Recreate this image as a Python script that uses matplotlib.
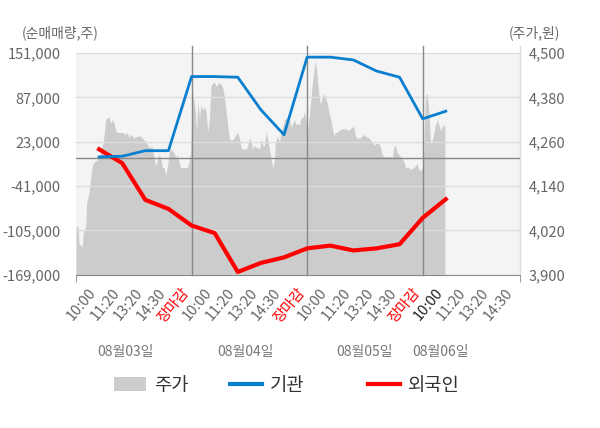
import matplotlib
matplotlib.use("Agg")
from matplotlib import pyplot as plt
from matplotlib.patches import Patch
from matplotlib.lines import Line2D

plt.rcParams['font.family'] = ['Noto Sans CJK KR', 'DejaVu Sans']

# x is a slot index: 5 slots per trading day, day boundary (장마감) at 5, 10, 15
price_x = [0.0, 0.09, 0.13, 0.20, 0.27, 0.32, 0.42, 0.46, 0.56, 0.64, 0.71, 0.78, 0.92, 1.07, 1.18,
           1.29, 1.36, 1.43, 1.50, 1.57, 1.65, 1.72, 1.79, 1.93, 2.00, 2.15, 2.22, 2.29, 2.37, 2.51,
           2.65, 2.80, 2.94, 3.02, 3.16, 3.30, 3.38, 3.45, 3.59, 3.67, 3.74, 3.81, 3.88, 3.95, 4.03,
           4.10, 4.24, 4.32, 4.39, 4.46, 4.53, 4.60, 4.75, 4.82, 4.89, 4.96,
           5.03, 5.08, 5.16, 5.22, 5.27, 5.34, 5.41, 5.48, 5.55, 5.63, 5.70, 5.77, 5.84, 5.92, 5.99,
           6.06, 6.13, 6.20, 6.28, 6.35, 6.42, 6.49, 6.57, 6.64, 6.78, 6.93, 7.00, 7.07, 7.14, 7.22,
           7.36, 7.43, 7.50, 7.58, 7.65, 7.72, 7.79, 7.94, 8.01, 8.08, 8.15, 8.23, 8.30, 8.37, 8.44,
           8.51, 8.59, 8.63, 8.73, 8.80, 8.87, 8.95, 9.02, 9.09, 9.16, 9.23, 9.31, 9.38, 9.45, 9.52,
           9.60, 9.67, 9.74, 9.81, 9.88, 9.96,
           10.0, 10.07, 10.14, 10.22, 10.29, 10.36, 10.43, 10.51, 10.58, 10.65, 10.72, 10.79, 10.87,
           10.94, 11.01, 11.08, 11.16, 11.23, 11.30, 11.37, 11.52, 11.66, 11.80, 11.95, 12.02, 12.09,
           12.16, 12.31, 12.38, 12.45, 12.52, 12.67, 12.81, 12.89, 12.96, 13.03, 13.10, 13.17, 13.25,
           13.32, 13.46, 13.61, 13.68, 13.75, 13.82, 13.90, 13.97, 14.11, 14.19, 14.26, 14.33, 14.40,
           14.47, 14.62, 14.69, 14.76, 14.84, 14.91, 14.98,
           15.05, 15.12, 15.19, 15.27, 15.34, 15.41, 15.48, 15.55, 15.63, 15.70, 15.77, 15.84, 15.92,
           15.96]
price_y = [4030, 4030, 3985, 3980, 3975, 4015, 4030, 4095, 4120, 4165, 4195, 4205, 4210, 4230, 4260,
           4320, 4325, 4325, 4310, 4320, 4310, 4290, 4285, 4285, 4285, 4280, 4285, 4270, 4280, 4270,
           4275, 4275, 4265, 4260, 4245, 4245, 4215, 4195, 4225, 4215, 4190, 4190, 4170, 4190, 4230,
           4240, 4230, 4215, 4225, 4205, 4190, 4190, 4190, 4190, 4205, 4230,
           4400, 4380, 4345, 4285, 4370, 4325, 4360, 4345, 4355, 4340, 4285, 4320, 4410, 4420, 4420,
           4410, 4415, 4420, 4415, 4405, 4380, 4345, 4300, 4265, 4265, 4280, 4285, 4270, 4245, 4240,
           4240, 4250, 4270, 4260, 4240, 4250, 4245, 4240, 4265, 4250, 4250, 4285, 4265, 4240, 4215,
           4190, 4210, 4260, 4275, 4260, 4285, 4300, 4320, 4325, 4305, 4320, 4300, 4310, 4320, 4305,
           4310, 4305, 4325, 4325, 4340, 4320,
           4275, 4315, 4360, 4415, 4450, 4480, 4440, 4385, 4360, 4380, 4390, 4380, 4365,
           4340, 4325, 4300, 4275, 4285, 4285, 4290, 4295, 4295, 4290, 4300, 4300, 4275,
           4270, 4270, 4275, 4280, 4275, 4270, 4260, 4250, 4255, 4255, 4255, 4245, 4225,
           4220, 4220, 4220, 4215, 4245, 4250, 4230, 4225, 4215, 4205, 4190, 4190, 4190,
           4185, 4190, 4195, 4200, 4185, 4180, 4190,
           4240, 4385, 4390, 4340, 4255, 4260, 4285, 4305, 4320, 4305, 4290, 4300, 4305,
           4305]

line_x = list(range(1, 17))
inst_net = [1000, 2000, 10000, 10000, 117000, 117000, 116000, 69000, 33000,
            145000, 145000, 141000, 125000, 116000, 56000, 67000]
frgn_net = [12000, -8000, -61000, -74000, -98000, -109000, -165000, -152000, -144000,
            -131000, -127000, -134000, -131000, -125000, -87000, -60000]

day_labels = ['08월03일', '08월04일', '08월05일', '08월06일']
time_labels = ['10:00', '11:20', '13:20', '14:30', '장마감'] * 3 + ['10:00', '11:20', '13:20', '14:30']

vol_ticks = [-169000, -105000, -41000, 23000, 87000, 151000]
price_ticks = [3900, 4020, 4140, 4260, 4380, 4500]

GRAY = '#cccccc'
BLUE = '#0a7fcf'
RED = '#ff0000'
TXT = '#666666'
XMAX = 19.21

fig = plt.figure(figsize=(6, 4.28), dpi=100)
axp = fig.add_axes([76/600, 1-274.7/428, 444/600, 221.7/428])
ax = axp.twinx()
ax.set_zorder(axp.get_zorder() + 1)
ax.patch.set_visible(False)

# price area on the right scale
axp.set_facecolor('#f4f4f4')
axp.fill_between(price_x, price_y, 3900, color=GRAY, linewidth=0, zorder=1)
axp.set_ylim(3900, 4500)
axp.set_yticks(price_ticks)
axp.set_yticklabels([f'{v:,}' for v in price_ticks])
axp.yaxis.tick_right()
axp.grid(axis='y', color='#dddddd', linewidth=1)
axp.tick_params(axis='y', length=0, pad=6, labelsize=10.5, labelcolor=TXT)

# net buying lines on the left scale
ax.yaxis.tick_left()
ax.set_ylim(-169000, 151000)
ax.set_yticks(vol_ticks)
ax.set_yticklabels([f'{v:,}' for v in vol_ticks])
ax.tick_params(axis='y', length=0, pad=11, labelsize=10.5, labelcolor=TXT)
ax.axhline(0, color='#888888', linewidth=1, zorder=2)
for b in [5, 10, 15]:
    ax.axvline(b, color='#888888', linewidth=1, ymax=1.03, clip_on=False, zorder=2)
ax.plot(line_x, inst_net, color=BLUE, linewidth=2, zorder=4)
ax.plot(line_x, frgn_net, color=RED, linewidth=3, zorder=3)

for a in (ax, axp):
    for s in ['top', 'left', 'right']:
        a.spines[s].set_visible(False)
axp.spines['bottom'].set_color('#888888')
ax.spines['bottom'].set_visible(False)

axp.set_xlim(0, XMAX)
axp.axvline(XMAX, color='#dddddd', linewidth=1, ymax=1.03, clip_on=False)
axp.set_xticks(range(1, 20))
axp.set_xticklabels(time_labels, rotation=50, ha='right')
axp.tick_params(axis='x', length=0, pad=8, labelsize=10.5)
for i, lab in enumerate(axp.get_xticklabels()):
    if time_labels[i] == '장마감':
        lab.set_color(RED)
    elif i == 15:
        lab.set_color('#222222')
    else:
        lab.set_color(TXT)
axp.set_xticks([0, 5, 10, 15, XMAX], minor=True)
axp.tick_params(axis='x', which='minor', length=5, color='#888888')

# day labels under the time ticks
for lab, xp in zip(day_labels, [2.12, 7.32, 12.5, 15.76]):
    axp.text(xp, -0.35, lab, transform=axp.get_xaxis_transform(), ha='center', va='center',
             fontsize=10, color='#777777')

fig.text(22/600, 1-33/428, '(순매매량,주)', ha='left', va='center', fontsize=10, color=TXT)
fig.text(509/600, 1-33/428, '(주가,원)', ha='left', va='center', fontsize=10, color=TXT)

handles = [Patch(facecolor=GRAY, edgecolor='none'),
           Line2D([], [], color=BLUE, linewidth=3),
           Line2D([], [], color=RED, linewidth=3)]
for h, name, xp in zip(handles, ['주가', '기관', '외국인'], [114, 230, 368]):
    fig.legend([h], [name], loc='center left', bbox_to_anchor=(xp/600, 1-385/428),
               frameon=False, fontsize=13.5, handlelength=1.7, handletextpad=0.45,
               borderpad=0, borderaxespad=0, labelcolor='#333333')

fig.savefig('out.png', dpi=100)
